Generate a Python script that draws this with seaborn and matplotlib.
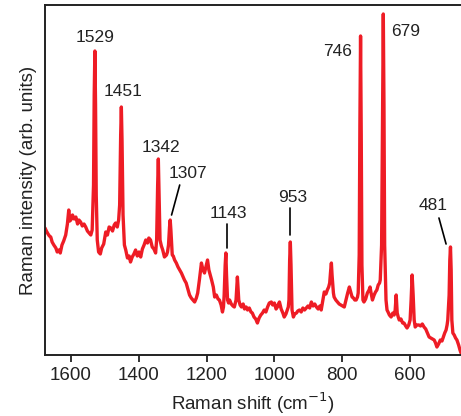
import matplotlib
matplotlib.use("Agg")
import matplotlib.pyplot as plt
import seaborn as sns
import pandas as pd

# Raman spectrum (wavenumber in cm^-1, intensity in arb. units)
shift = [1676, 1672, 1667, 1663, 1659, 1655, 1650, 1644, 1640, 1635, 1631, 1626, 1621, 1615, 1610,
         1606, 1603, 1600, 1595, 1590, 1585, 1580, 1576, 1571, 1566, 1561, 1556, 1551, 1546, 1541,
         1537, 1533, 1531, 1529, 1527, 1525, 1522, 1518, 1513, 1509, 1503, 1497, 1492, 1487, 1482,
         1477, 1472, 1468, 1463, 1459, 1456, 1453, 1451, 1449, 1446, 1442, 1438, 1433, 1428, 1424,
         1419, 1414, 1409, 1404, 1399, 1394, 1389, 1384, 1379, 1374, 1370, 1365, 1360, 1355, 1350,
         1347, 1344, 1342, 1340, 1337, 1333, 1329, 1324, 1318, 1315, 1312, 1309, 1307, 1305, 1301,
         1298, 1294, 1289, 1284, 1279, 1274, 1270, 1265, 1260, 1255, 1250, 1245, 1240, 1235, 1230,
         1226, 1221, 1215, 1211, 1206, 1202, 1197, 1193, 1189, 1185, 1180, 1176, 1171, 1166, 1162,
         1157, 1153, 1150, 1148, 1145, 1143, 1141, 1138, 1135, 1132, 1127, 1122, 1118, 1113, 1111,
         1109, 1107, 1105, 1101, 1097, 1092, 1088, 1083, 1079, 1074, 1069, 1065, 1060, 1055, 1050,
         1045, 1040, 1035, 1030, 1025, 1020, 1015, 1009, 1005, 1000, 995, 991, 988, 985, 980,
         975, 971, 966, 962, 959, 957, 955, 953, 951, 948, 944, 940, 935, 931, 926,
         921, 916, 911, 906, 901, 896, 891, 886, 881, 876, 871, 866, 862, 857, 853,
         848, 844, 840, 837, 834, 832, 830, 826, 824, 819, 814, 809, 804, 799, 794,
         789, 784, 779, 775, 771, 767, 763, 759, 755, 753, 750, 748, 746, 744, 742,
         739, 736, 731, 726, 721, 718, 715, 711, 706, 702, 698, 694, 690, 688, 684,
         681, 679, 677, 675, 671, 668, 665, 661, 656, 651, 647, 644, 641, 638, 635,
         632, 627, 622, 618, 613, 609, 604, 600, 597, 594, 591, 588, 585, 580, 574,
         569, 564, 559, 554, 549, 544, 539, 534, 529, 525, 521, 516, 511, 506, 502,
         498, 494, 491, 489, 485, 483, 481, 479, 477, 474, 470, 466, 462, 457, 453,
         450]
intensity = [127, 124, 121, 119, 118, 113, 110, 107, 103, 105, 102, 110, 114, 120, 131,
             145, 134, 135, 140, 136, 138, 131, 135, 133, 129, 131, 128, 124, 122, 120,
             125, 170, 260, 304, 250, 160, 115, 103, 101, 107, 111, 123, 120, 128, 127,
             124, 130, 132, 128, 135, 150, 220, 248, 215, 140, 110, 105, 97, 99, 93,
             98, 101, 105, 99, 103, 98, 106, 110, 115, 112, 117, 115, 108, 106, 102,
             115, 170, 196, 165, 115, 109, 105, 98, 100, 103, 110, 128, 135, 125, 100,
             99, 95, 92, 88, 85, 82, 79, 75, 72, 66, 60, 57, 55, 53, 57,
             62, 75, 92, 86, 82, 88, 95, 85, 80, 75, 68, 58, 60, 56, 55,
             50, 43, 48, 60, 90, 102, 80, 55, 52, 55, 51, 49, 48, 55, 66,
             78, 66, 55, 50, 48, 51, 46, 48, 45, 47, 43, 42, 38, 36, 32,
             37, 40, 42, 45, 43, 48, 52, 53, 50, 52, 46, 48, 51, 53, 46,
             42, 38, 41, 45, 48, 55, 95, 113, 90, 45, 38, 41, 42, 44, 45,
             43, 47, 45, 47, 49, 47, 53, 49, 51, 48, 46, 49, 45, 55, 63,
             61, 65, 68, 72, 85, 92, 80, 62, 58, 55, 53, 51, 50, 49, 48,
             55, 62, 68, 63, 58, 57, 55, 55, 58, 62, 100, 230, 319, 220, 90,
             55, 53, 56, 62, 65, 68, 62, 55, 60, 63, 65, 70, 72, 75, 110,
             250, 341, 250, 110, 55, 45, 43, 40, 38, 42, 40, 45, 60, 42, 38,
             35, 36, 32, 32, 29, 27, 30, 35, 55, 80, 60, 35, 28, 30, 30,
             29, 31, 28, 26, 22, 18, 17, 16, 15, 12, 8, 11, 15, 14, 18,
             22, 25, 30, 35, 60, 95, 108, 85, 35, 22, 20, 17, 15, 10, 5,
             2]

peak_labels = ["1529", "1451", "1342", "1307", "1143", "953", "746", "679", "481"]
label_x = [1527, 1447, 1335, 1256, 1135, 947, 815, 612, 532]
label_y = [317, 264, 207, 182, 142, 157, 303, 323, 150]
# leader lines: (label-side end, peak-side end) for labels that have one
lead_from_x = [None, None, None, 1279, 1141, 953, None, None, 515]
lead_from_y = [None, None, None, 170, 131, 147, None, None, 137]
lead_to_x = [None, None, None, 1303, 1141, 953, None, None, 494]
lead_to_y = [None, None, None, 140, 107, 120, None, None, 111]

x_ticks = [1600, 1400, 1200, 1000, 800, 600]

sns.set_theme(style="ticks")
plt.rcParams['font.family'] = ['Liberation Sans', 'DejaVu Sans']

fig = plt.figure(figsize=(4.61, 4.16), dpi=100)
ax = fig.add_axes([45 / 461, 61 / 416, 416 / 461, 350 / 416])

df = pd.DataFrame({"shift": shift, "intensity": intensity})
sns.lineplot(data=df, x="shift", y="intensity", ax=ax, color="#EE1C25",
             linewidth=2.4, sort=False, estimator=None)

for i, lab in enumerate(peak_labels):
    ax.text(label_x[i], label_y[i], lab, ha="center", va="center",
            fontsize=12.5, color="#222222")
    if lead_from_x[i] is not None:
        ax.plot([lead_from_x[i], lead_to_x[i]], [lead_from_y[i], lead_to_y[i]],
                color="black", linewidth=1.2)

ax.set_xlim(1676, 450)
ax.set_ylim(0, 350)
ax.set_xticks(x_ticks)
ax.set_yticks([])
ax.tick_params(axis="x", labelsize=13.5, length=5, width=1.3, color="#222222",
               labelcolor="#222222", pad=4)
for s in ["left", "bottom", "top"]:
    ax.spines[s].set_linewidth(1.4)
    ax.spines[s].set_color("#222222")
ax.spines["right"].set_visible(False)
ax.set_xlabel("Raman shift (cm$^{-1}$)", fontsize=13.5, color="#222222", labelpad=4)
ax.set_ylabel("Raman intensity (arb. units)", fontsize=13.5, color="#222222", labelpad=6)

fig.savefig("out.png", dpi=100)
